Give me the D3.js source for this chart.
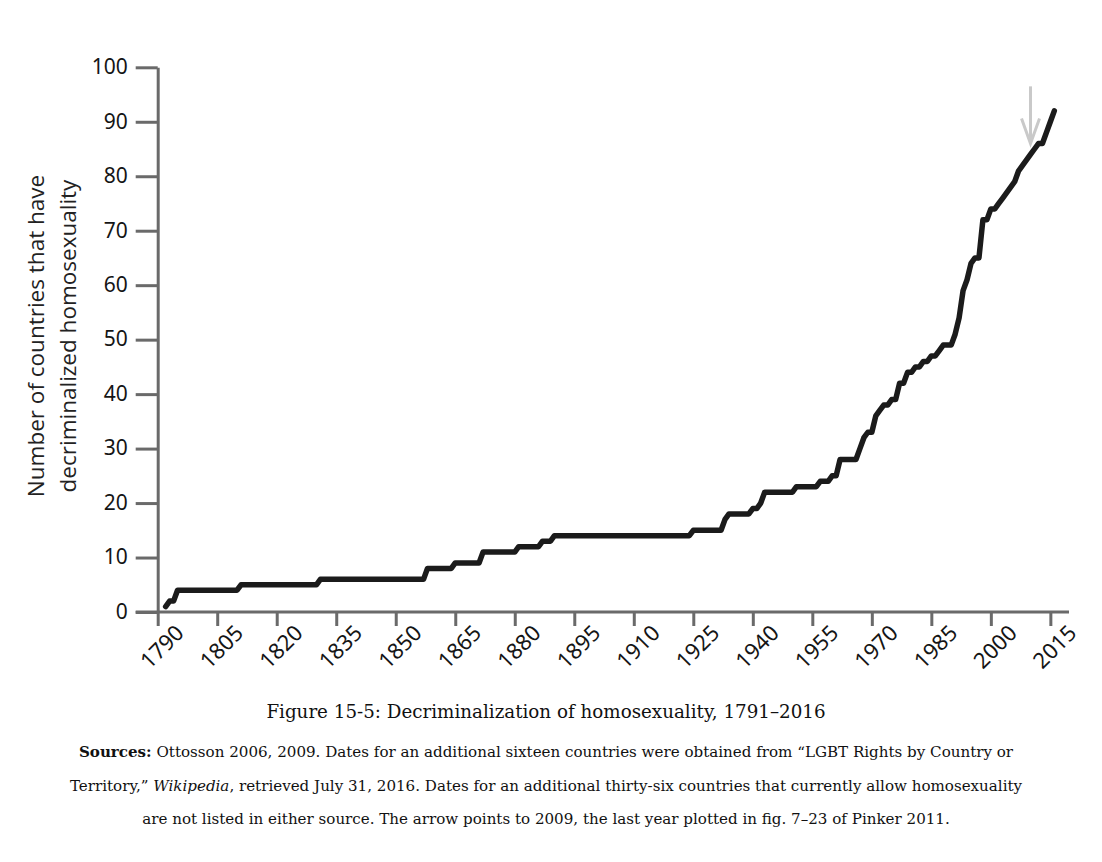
<!DOCTYPE html>
<html>
<head>
<meta charset="utf-8">
<script src="https://cdn.jsdelivr.net/npm/d3@7"></script>
<style>
  body { margin: 0; background: #fff; }
  .tick text { font-family: "Noto Sans", sans-serif; }
</style>
</head>
<body>
<div id="chart"></div>
<script>

var years = [1792, 1793, 1794, 1795, 1810, 1811, 1830, 1831, 1857, 1858, 1864, 1865,
  1871, 1872, 1880, 1881, 1886, 1887, 1889, 1890, 1924, 1925, 1932, 1933, 1934,
  1939, 1940, 1941, 1942, 1943, 1950, 1951, 1956, 1957, 1959, 1960, 1961, 1962,
  1966, 1967, 1968, 1969, 1970, 1971, 1972, 1973, 1974, 1975, 1976, 1977, 1978,
  1979, 1980, 1981, 1982, 1983, 1984, 1985, 1986, 1987, 1988, 1989, 1990, 1991,
  1992, 1993, 1994, 1995, 1996, 1997, 1998, 1999, 2000, 2001, 2002, 2003, 2004,
  2005, 2006, 2007, 2008, 2009, 2010, 2011, 2012, 2013, 2014, 2015, 2016];
var counts = [1, 2, 2, 4, 4, 5, 5, 6, 6, 8, 8, 9,
  9, 11, 11, 12, 12, 13, 13, 14, 14, 15, 15, 17, 18,
  18, 19, 19, 20, 22, 22, 23, 23, 24, 24, 25, 25, 28,
  28, 30, 32, 33, 33, 36, 37, 38, 38, 39, 39, 42, 42,
  44, 44, 45, 45, 46, 46, 47, 47, 48, 49, 49, 49, 51,
  54, 59, 61, 64, 65, 65, 72, 72, 74, 74, 75, 76, 77,
  78, 79, 81, 82, 83, 84, 85, 86, 86, 88, 90, 92];

var xTicks = [1790, 1805, 1820, 1835, 1850, 1865, 1880, 1895, 1910, 1925, 1940, 1955, 1970, 1985, 2000, 2015];
var yTicks = [0, 10, 20, 30, 40, 50, 60, 70, 80, 90, 100];

var yLabel = ["Number of countries that have", "decriminalized homosexuality"];
var arrowYear = 2010, arrowTop = 96.5, arrowTip = 86;

var title = "Figure 15-5: Decriminalization of homosexuality, 1791\u20132016";

var width = 1102, height = 862;

var svg = d3.select("#chart").append("svg")
  .attr("width", width)
  .attr("height", height)
  .style("display", "block");

svg.append("rect")
  .attr("width", width)
  .attr("height", height)
  .attr("fill", "#ffffff");

var x = d3.scaleLinear().domain([1790, 2019.7]).range([157.7, 1069]);
var y = d3.scaleLinear().domain([0, 100]).range([612, 67.3]);

var axisColor = "#6a6a6a";

var xAxis = svg.append("g")
  .attr("transform", "translate(0," + y(0) + ")")
  .call(d3.axisBottom(x).tickValues(xTicks).tickSize(14).tickSizeOuter(0).tickFormat(d3.format("d")));

xAxis.selectAll("text")
  .attr("transform", "rotate(-45)")
  .attr("text-anchor", "end")
  .attr("dx", "0.15em")
  .attr("dy", "0.95em")
  .attr("x", 0)
  .attr("y", 14)
  .style("font-size", "22px")
  .attr("fill", "#151515");

var yAxis = svg.append("g")
  .attr("transform", "translate(" + x(1790) + ",0)")
  .call(d3.axisLeft(y).tickValues(yTicks).tickSize(22).tickSizeOuter(0));

yAxis.selectAll("text")
  .attr("x", -30)
  .attr("dy", "0.3em")
  .style("font-size", "21px")
  .attr("fill", "#151515");

svg.selectAll(".domain, .tick line")
  .attr("stroke", axisColor)
  .attr("stroke-width", 3);

// axis line runs past the last tick
xAxis.select(".domain").attr("d", "M" + (x(1790) - 22) + ",0H" + x(2019.7));

var label = svg.append("text")
  .attr("transform", "translate(44," + 336 + ") rotate(-90)")
  .attr("text-anchor", "middle")
  .style("font-family", "'Open Sans', sans-serif")
  .style("font-size", "22.5px")
  .attr("fill", "#222");

label.selectAll("tspan")
  .data(yLabel)
  .enter().append("tspan")
  .attr("x", 0)
  .attr("dy", function(d, i) { return i == 0 ? 0 : "1.4em"; })
  .text(function(d) { return d; });

var line = d3.line()
  .x(function(d) { return x(d[0]); })
  .y(function(d) { return y(d[1]); });

svg.append("path")
  .datum(years.map(function(d, i) { return [d, counts[i]]; }))
  .attr("d", line)
  .attr("fill", "none")
  .attr("stroke", "#1b1b1b")
  .attr("stroke-width", 5.5)
  .attr("stroke-linejoin", "round")
  .attr("stroke-linecap", "round");

var arrow = svg.append("g")
  .attr("stroke", "#c9c9c9")
  .attr("stroke-width", 3)
  .attr("fill", "none");

arrow.append("line")
  .attr("x1", x(arrowYear)).attr("x2", x(arrowYear))
  .attr("y1", y(arrowTop)).attr("y2", y(arrowTip));

arrow.append("path")
  .attr("d", "M" + (x(arrowYear) - 9) + "," + (y(arrowTip) - 25) +
    "L" + x(arrowYear) + "," + y(arrowTip) +
    "L" + (x(arrowYear) + 9) + "," + (y(arrowTip) - 25));

svg.append("text")
  .attr("x", 546)
  .attr("y", 718)
  .attr("text-anchor", "middle")
  .style("font-family", "'DejaVu Serif', serif")
  .style("font-size", "18.3px")
  .attr("fill", "#111")
  .text(title);

var notes = svg.append("g")
  .style("font-family", "'DejaVu Serif', serif")
  .style("font-size", "15.1px")
  .attr("fill", "#111")
  .attr("text-anchor", "middle");

var n1 = notes.append("text").attr("x", 546).attr("y", 757);
n1.append("tspan").style("font-weight", "bold").text("Sources:");
n1.append("tspan").text(" Ottosson 2006, 2009. Dates for an additional sixteen countries were obtained from \u201cLGBT Rights by Country or");

var n2 = notes.append("text").attr("x", 546).attr("y", 791);
n2.append("tspan").text("Territory,\u201d ");
n2.append("tspan").style("font-style", "italic").text("Wikipedia");
n2.append("tspan").text(", retrieved July 31, 2016. Dates for an additional thirty-six countries that currently allow homosexuality");

notes.append("text").attr("x", 546).attr("y", 824)
  .text("are not listed in either source. The arrow points to 2009, the last year plotted in fig. 7\u201323 of Pinker 2011.");

</script>
</body>
</html>
